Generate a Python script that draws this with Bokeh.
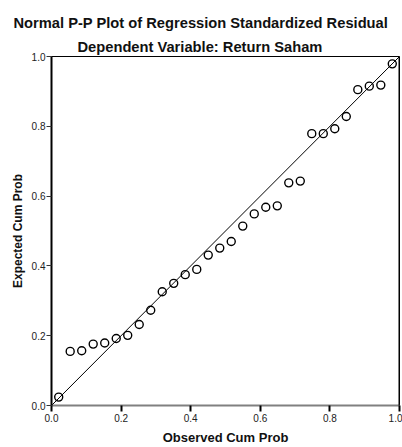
from bokeh.plotting import figure
from bokeh.models import Title, Span, FixedTicker, Range1d
from bokeh.embed import file_html
from bokeh.resources import INLINE

# Data
observed_cum_prob = [0.0207, 0.0537, 0.0868, 0.1198, 0.1529, 0.1860, 0.2190, 0.2521,
                     0.2851, 0.3182, 0.3512, 0.3843, 0.4174, 0.4504, 0.4835, 0.5165,
                     0.5496, 0.5826, 0.6157, 0.6488, 0.6818, 0.7149, 0.7479, 0.7810,
                     0.8140, 0.8471, 0.8802, 0.9132, 0.9463, 0.9793]
expected_cum_prob = [0.024, 0.155, 0.157, 0.176, 0.179, 0.192, 0.201, 0.232,
                     0.273, 0.326, 0.350, 0.375, 0.390, 0.431, 0.451, 0.470,
                     0.514, 0.549, 0.568, 0.572, 0.638, 0.643, 0.779, 0.779,
                     0.793, 0.828, 0.905, 0.915, 0.918, 0.979]
ref_line_x = [0.0, 1.0]
ref_line_y = [0.0, 1.0]
tick_values = [0.0, 0.2, 0.4, 0.6, 0.8, 1.0]
tick_labels = ["0.0", "0.2", "0.4", "0.6", "0.8", "1.0"]

FONT = "Liberation Sans"

p = figure(width=402, height=447, output_backend="svg", toolbar_location=None,
           x_range=Range1d(0, 1), y_range=Range1d(0, 1),
           min_border_left=51, min_border_right=3, min_border_top=56,
           min_border_bottom=41, background_fill_color="white",
           border_fill_color="white")

p.grid.visible = False
p.outline_line_color = "black"
p.outline_line_width = 1

sub = Title(text="Dependent Variable: Return Saham", align="left",
            text_font=FONT, text_font_size="14.7px", text_font_style="bold",
            text_color="#111111", standoff=3, offset=26)
main = Title(text="Normal P-P Plot of Regression Standardized Residual", align="left",
             text_font=FONT, text_font_size="14.7px", text_font_style="bold",
             text_color="#111111", standoff=10, offset=-38)
p.add_layout(sub, "above")
p.add_layout(main, "above")

labels = dict(zip(tick_values, tick_labels))
for ax in (p.xaxis[0], p.yaxis[0]):
    ax.ticker = FixedTicker(ticks=tick_values)
    ax.major_label_overrides = labels
    ax.minor_tick_line_color = None
    ax.major_tick_in = 0
    ax.major_tick_out = 5
    ax.major_label_text_font = FONT
    ax.major_label_text_font_size = "10px"
    ax.major_label_text_color = "#222222"
    ax.axis_label_text_font = FONT
    ax.axis_label_text_font_style = "bold"
    ax.axis_label_text_color = "#111111"

p.xaxis.axis_label = "Observed Cum Prob"
p.xaxis.axis_label_text_font_size = "13px"
p.xaxis.axis_line_color = "#808080"
p.xaxis.axis_line_width = 2
p.xaxis.major_tick_line_color = "black"
p.xaxis.major_tick_line_width = 2
p.xaxis.major_tick_out = 6
p.xaxis.major_label_standoff = 2
p.xaxis.axis_label_standoff = 5

p.yaxis.axis_label = "Expected Cum Prob"
p.yaxis.axis_label_text_font_size = "12px"
p.yaxis.axis_line_color = "black"
p.yaxis.axis_line_width = 2
p.yaxis.major_tick_line_color = "#333333"
p.yaxis.major_tick_line_width = 1
p.yaxis.major_label_standoff = 1
p.yaxis.axis_label_standoff = 4

p.add_layout(Span(location=1.0, dimension="height", line_color="black", line_width=2))

p.line(ref_line_x, ref_line_y, line_color="black", line_width=1)
p.scatter(observed_cum_prob, expected_cum_prob, marker="circle", size=8,
          fill_color=None, line_color="black", line_width=1.4)

open("out.html", "w").write(file_html(p, INLINE))
